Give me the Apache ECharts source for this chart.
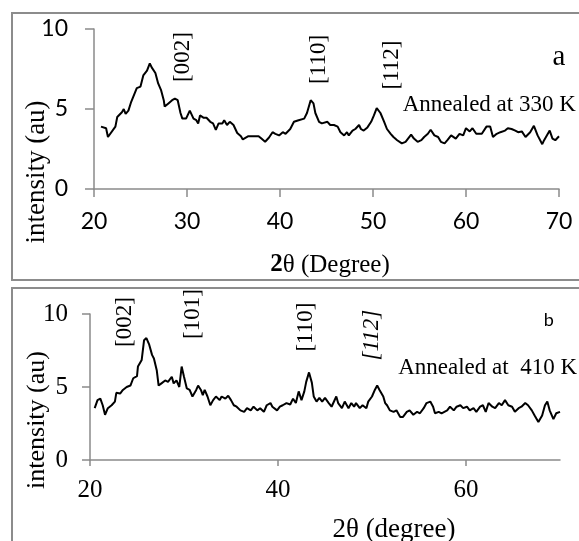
<!DOCTYPE html>
<html>
<head>
<meta charset="utf-8">
<script src="https://cdn.jsdelivr.net/npm/echarts@6/dist/echarts.min.js"></script>
<style>html,body{margin:0;padding:0;background:#fff}#c{width:579px;height:541px}</style>
</head>
<body>
<div id="c"></div>
<script>
// ---- Panel a (annealed at 330 K) ----
const xA = [20.75,21.3,21.5,22.3,22.5,23.0,23.2,23.4,23.7,24.0,24.6,25.0,25.3,25.7,26.0,26.2,26.6,26.9,27.2,27.5,27.6,28.0,28.4,28.7,29.0,29.3,29.5,29.9,30.3,30.7,31.0,31.2,31.4,31.8,32.1,32.5,32.8,33.1,33.4,33.8,34.0,34.3,34.6,35.0,35.2,35.4,35.8,36.0,36.6,37.1,37.7,38.0,38.4,38.8,39.2,39.5,39.9,40.3,40.6,41.1,41.5,42.0,42.6,42.9,43.3,43.5,43.6,43.8,44.2,44.5,45.1,45.4,45.8,46.2,46.5,46.9,47.2,47.4,47.8,48.1,48.5,48.7,49.0,49.4,49.8,50.1,50.4,50.8,51.2,51.5,51.9,52.2,52.6,53.1,53.5,54.1,54.4,54.8,55.2,55.5,55.9,56.2,56.6,57.0,57.3,57.7,58.0,58.4,58.6,58.9,59.3,59.7,60.0,60.4,60.7,61.1,61.7,62.2,62.6,62.9,63.3,63.7,64.2,64.5,64.9,65.3,65.6,66.0,66.4,66.9,67.3,67.7,68.2,68.4,68.8,69.0,69.3,69.6,70.0];
const yA = [3.9,3.8,3.25,3.9,4.5,4.8,5.0,4.7,4.9,5.45,6.3,6.4,7.1,7.4,7.85,7.6,7.25,6.6,6.2,5.55,5.15,5.35,5.55,5.65,5.55,4.75,4.4,4.4,4.9,4.4,4.3,4.1,4.6,4.45,4.45,4.2,4.1,3.7,4.1,4.1,4.3,4.0,4.2,4.0,4.1,3.5,3.3,3.1,3.3,3.3,3.3,3.15,2.95,3.2,3.55,3.45,3.35,3.55,3.45,3.75,4.2,4.3,4.4,4.75,5.55,5.65,5.35,4.75,4.2,4.1,4.2,4.0,4.0,3.9,3.55,3.35,3.55,3.35,3.65,3.75,4.0,3.75,3.65,3.85,4.2,4.6,5.05,4.75,4.2,3.75,3.45,3.25,3.05,2.85,2.95,3.4,3.15,2.95,3.05,3.25,3.45,3.7,3.35,3.25,2.95,2.85,3.05,3.35,3.45,3.15,3.45,3.35,3.8,3.6,3.8,3.45,3.45,3.9,3.9,3.25,3.45,3.55,3.65,3.8,3.75,3.65,3.55,3.6,3.25,3.55,3.95,3.35,2.8,3.05,3.45,3.65,3.15,3.05,3.3];

// ---- Panel b (annealed at 410 K) ----
const xB = [20.5,20.8,21.1,21.35,21.6,21.9,22.3,22.65,22.8,23.2,23.5,23.9,24.3,24.6,25.0,25.1,25.5,25.75,26.0,26.3,26.6,26.8,27.1,27.3,27.6,28.0,28.3,28.7,28.9,29.2,29.5,29.75,30.0,30.3,30.6,30.9,31.3,31.5,31.8,32.0,32.2,32.5,32.8,33.1,33.4,33.8,34.0,34.4,34.7,35.0,35.3,35.6,36.0,36.4,36.7,37.1,37.4,37.8,38.1,38.5,38.8,39.2,39.4,39.9,40.2,40.5,40.9,41.3,41.6,41.9,42.2,42.5,42.8,43.0,43.3,43.6,43.8,44.1,44.4,44.7,45.0,45.4,45.7,46.2,46.4,46.8,47.1,47.5,47.8,48.1,48.3,48.7,49.0,49.4,49.6,50.0,50.3,50.55,50.8,51.2,51.4,51.6,51.9,52.3,52.6,53.0,53.3,53.7,54.0,54.4,54.8,55.1,55.5,55.8,56.2,56.5,56.7,57.1,57.4,58.0,58.3,58.7,59.0,59.4,59.7,60.1,60.4,60.8,61.1,61.5,61.8,62.1,62.4,62.8,63.1,63.5,63.8,64.15,64.5,64.9,65.2,65.6,65.9,66.3,66.6,67.0,67.3,67.7,68.1,68.4,68.65,68.9,69.3,69.6,70.0];
const yB = [3.55,4.1,4.2,3.75,3.1,3.55,3.75,4.0,4.6,4.55,4.8,5.0,5.1,5.6,5.75,6.4,6.85,8.2,8.35,7.9,7.2,6.95,6.15,5.1,5.25,5.45,5.35,5.7,5.25,5.45,5.0,6.4,5.7,4.9,4.8,4.35,4.8,5.1,4.8,4.45,4.8,4.35,3.75,4.1,4.35,4.1,4.35,4.2,4.4,4.1,3.75,3.65,3.4,3.3,3.55,3.4,3.65,3.4,3.55,3.3,3.75,3.9,3.65,3.4,3.65,3.75,3.9,3.8,4.2,3.9,4.7,4.1,4.7,5.35,6.0,5.3,4.35,4.0,4.25,4.0,4.25,3.9,3.65,4.35,3.9,3.55,4.0,3.55,3.9,3.65,3.9,3.55,3.75,3.55,4.0,4.35,4.8,5.1,4.8,4.35,3.9,3.75,3.4,3.3,3.4,2.95,2.95,3.3,3.4,3.1,3.3,3.2,3.55,3.9,4.0,3.65,3.2,3.3,3.2,3.4,3.65,3.4,3.65,3.75,3.55,3.65,3.4,3.55,3.3,3.65,3.75,3.3,3.9,3.65,3.55,3.9,3.75,4.1,3.75,3.65,3.3,3.55,3.65,3.9,3.75,3.4,3.05,2.6,3.05,3.75,4.0,3.4,2.8,3.2,3.3];

// ---- axes / ticks ----
const xTicksA = [20,30,40,50,60,70];
const xTicksB = [20,40,60];
const yTicks = [0,5,10];

// ---- peak labels ----
const peaksA = ['[002]','[110]','[112]'];
const peaksAX = [29.6,44.2,52.0];
const peaksAY = [8.25,8.1,7.75];
const peaksB = ['[002]','[101]','[110]','[112]'];
const peaksBX = [23.7,31.0,43.0,50.0];
const peaksBY = [9.45,10.0,9.1,8.55];

const zip = (xs, ys) => xs.map((x, i) => [x, ys[i]]);
const SERIF = 'Liberation Serif';
const SANS = 'Lato';
const AX = '#8a8a8a';

function peakMarks(names, xs, ys, italicIdx) {
  return names.map((n, i) => ({
    name: n, coord: [xs[i], ys[i]],
    label: { fontStyle: i === italicIdx ? 'italic' : 'normal' }
  }));
}

const chart = echarts.init(document.getElementById('c'), null, {renderer: 'canvas'});
chart.setOption({
  animation: false,
  backgroundColor: '#fff',
  grid: [
    {left: 94, top: 29, width: 465, height: 160},
    {left: 90, top: 314, width: 470, height: 146}
  ],
  xAxis: [
    {gridIndex: 0, type: 'value', min: 20, max: 70, interval: 10,
     splitLine: {show: false},
     axisLine: {lineStyle: {color: AX, width: 1.5}},
     axisTick: {length: 8, lineStyle: {color: AX, width: 1.5}, customValues: xTicksA},
     axisLabel: {margin: 21, color: '#000', fontFamily: SANS, fontSize: 23, customValues: xTicksA}},
    {gridIndex: 1, type: 'value', min: 20, max: 70,
     splitLine: {show: false},
     axisLine: {lineStyle: {color: AX, width: 1.5}},
     axisTick: {length: 6, lineStyle: {color: AX, width: 1.5}, customValues: xTicksB},
     axisLabel: {margin: 18, color: '#000', fontFamily: SERIF, fontSize: 25, customValues: xTicksB}}
  ],
  yAxis: [
    {gridIndex: 0, type: 'value', min: 0, max: 10, interval: 5,
     splitLine: {show: false},
     axisLine: {show: true, lineStyle: {color: AX, width: 1.5}},
     axisTick: {show: true, length: 9, lineStyle: {color: AX, width: 1.5}, customValues: yTicks},
     axisLabel: {margin: 26, color: '#000', fontFamily: SANS, fontSize: 23, customValues: yTicks}},
    {gridIndex: 1, type: 'value', min: 0, max: 10, interval: 5,
     splitLine: {show: false},
     axisLine: {show: true, lineStyle: {color: AX, width: 1.5}},
     axisTick: {show: true, length: 8, lineStyle: {color: AX, width: 1.5}, customValues: yTicks},
     axisLabel: {margin: 22, color: '#000', fontFamily: SERIF, fontSize: 25, customValues: yTicks}}
  ],
  series: [
    {type: 'line', xAxisIndex: 0, yAxisIndex: 0, data: zip(xA, yA),
     showSymbol: false, symbol: 'none', lineStyle: {color: '#000', width: 2}, clip: false,
     markPoint: {symbol: 'circle', symbolSize: 1, itemStyle: {color: 'rgba(0,0,0,0)'},
       label: {show: true, position: 'inside', rotate: 90, formatter: '{b}', color: '#000', fontFamily: SERIF, fontSize: 23},
       data: peakMarks(peaksA, peaksAX, peaksAY, -1).concat([
         {name: 'Annealed at 330 K', coord: [62.5, 5.25], label: {rotate: 0, fontSize: 23}},
         {name: 'a', coord: [70.0, 8.25], label: {rotate: 0, fontSize: 29}}
       ])}},
    {type: 'line', xAxisIndex: 1, yAxisIndex: 1, data: zip(xB, yB),
     showSymbol: false, symbol: 'none', lineStyle: {color: '#000', width: 2}, clip: false,
     markPoint: {symbol: 'circle', symbolSize: 1, itemStyle: {color: 'rgba(0,0,0,0)'},
       label: {show: true, position: 'inside', rotate: 90, formatter: '{b}', color: '#000', fontFamily: SERIF, fontSize: 23},
       data: peakMarks(peaksB, peaksBX, peaksBY, 3).concat([
         {name: 'Annealed at  410 K', coord: [62.3, 6.3], label: {rotate: 0, fontSize: 23}},
         {name: 'b', coord: [68.8, 9.6], label: {rotate: 0, fontSize: 18, fontFamily: SANS}}
       ])}}
  ],
  graphic: [
    {type: 'rect', shape: {x: 12, y: 13, width: 600, height: 267}, style: {fill: 'none', stroke: '#8c8c8c', lineWidth: 2}, silent: true},
    {type: 'rect', shape: {x: 12, y: 288, width: 600, height: 300}, style: {fill: 'none', stroke: '#8c8c8c', lineWidth: 2}, silent: true},
    {type: 'text', x: 37, y: 172, rotation: Math.PI / 2,
     style: {text: 'intensity (au)', fill: '#000', fontFamily: SERIF, fontSize: 27, align: 'center', verticalAlign: 'middle'}},
    {type: 'text', x: 330, y: 265,
     style: {text: '{b|2}θ (Degree)', fill: '#000', fontFamily: SERIF, fontSize: 25, align: 'center', verticalAlign: 'middle',
       rich: {b: {fontWeight: 'bold', fontFamily: SERIF, fontSize: 25, fill: '#000'}}}},
    {type: 'text', x: 37, y: 420, rotation: Math.PI / 2,
     style: {text: 'intensity (au)', fill: '#000', fontFamily: SERIF, fontSize: 26, align: 'center', verticalAlign: 'middle'}},
    {type: 'text', x: 394, y: 530,
     style: {text: '2θ (degree)', fill: '#000', fontFamily: SERIF, fontSize: 27, align: 'center', verticalAlign: 'middle'}}
  ]
});
</script>
</body>
</html>
